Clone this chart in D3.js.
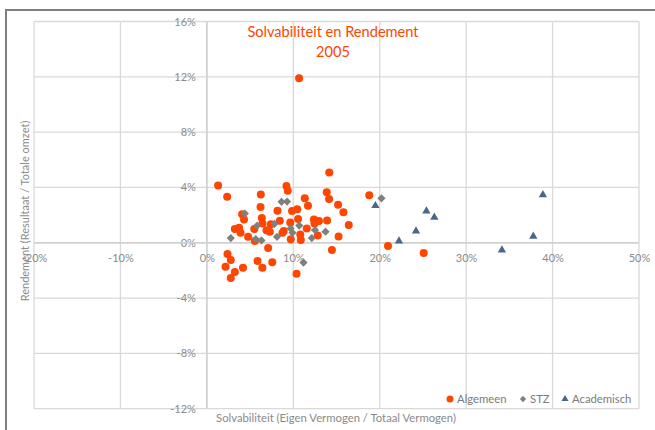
<!DOCTYPE html>
<html>
<head>
<meta charset="utf-8">
<script src="https://cdn.jsdelivr.net/npm/d3@7"></script>
<style>
  body { margin: 0; background: #fff; }
  text { font-family: Lato, "Open Sans", sans-serif; }
</style>
</head>
<body>
<div id="chart"></div>
<script>
// values in percent
const algemeenX = [1.3, 2.35, 6.24, 9.21, 9.36, 14.16, 13.87, 14.14, 11.33, 11.7, 15.18, 15.8, 16.42, 18.79,
  6.21, 4.08, 4.3, 8.17, 9.86, 10.46, 6.36, 6.44, 8.44, 7.4, 7.28, 9.65, 10.55, 11.56, 12.39, 12.97,
  12.45, 13.91, 3.24, 3.73, 3.9, 4.77, 5.55, 5.49, 8.75, 9.71, 10.81, 10.87, 12.83, 15.24, 14.47,
  7.09, 20.96, 2.39, 2.77, 2.16, 3.24, 2.77, 4.18, 5.86, 6.42, 7.57, 10.38, 10.67, 25.09, 6.9, 8.9];
const algemeenY = [4.14, 3.33, 3.49, 4.1, 3.76, 5.08, 3.65, 3.16, 3.21, 2.68, 2.75, 2.2, 1.28, 3.43,
  2.58, 2.06, 1.69, 2.31, 2.29, 2.42, 1.79, 1.4, 1.59, 1.33, 0.8, 1.46, 1.71, 1.04, 1.69, 1.58,
  1.4, 1.61, 0.99, 1.08, 0.72, 0.43, 0.12, 0.99, 0.72, 0.25, 0.59, 0.2, 0.52, 0.45, -0.53,
  -0.38, -0.24, -0.82, -1.25, -1.74, -2.12, -2.55, -1.81, -1.32, -1.81, -1.41, -2.25, 11.89, -0.74, 0.9, 0.85];

const stzX = [2.77, 4.39, 5.82, 5.66, 6.32, 7.83, 8.12, 8.64, 9.28, 9.69, 9.91, 10.69, 12.14, 12.51, 13.73, 11.18, 20.2];
const stzY = [0.34, 2.11, 1.24, 0.27, 0.17, 1.37, 0.43, 2.96, 2.98, 1.04, 0.72, 1.24, 0.34, 0.92, 0.8, -1.43, 3.21];

const academischX = [19.5, 22.23, 24.2, 25.4, 26.32, 34.14, 37.77, 38.88];
const academischY = [2.68, 0.12, 0.85, 2.29, 1.84, -0.53, 0.46, 3.47];

const xTicks = [-20, -10, 0, 10, 20, 30, 40, 50];
const yTicks = [-12, -8, -4, 0, 4, 8, 12, 16];

const title = ["Solvabiliteit en Rendement", "2005"];
const xTitle = "Solvabiliteit (Eigen Vermogen / Totaal Vermogen)";
const yTitle = "Rendement (Resultaat / Totale omzet)";
const series = ["Algemeen", "STZ", "Academisch"];

let width = 655,
  height = 430;

const orange = "#ff4500",
  grey = "#808080",
  blue = "#4a6788",
  labelColor = "#8a8a8a";

let svg = d3
  .select("#chart")
  .append("svg")
  .attr("width", width)
  .attr("height", height);

// outer frame (runs off the right and bottom of the picture)
svg
  .append("rect")
  .attr("x", 6)
  .attr("y", 10)
  .attr("width", 700)
  .attr("height", 500)
  .attr("fill", "none")
  .attr("stroke", "#7f7f7f")
  .attr("stroke-width", 2);

let x = d3.scaleLinear().domain([-20, 50]).range([34, 639]);
let y = d3.scaleLinear().domain([-12, 16]).range([408.7, 21.5]);

// gridlines
svg
  .append("g")
  .selectAll("line")
  .data(xTicks)
  .enter()
  .append("line")
  .attr("x1", d => x(d))
  .attr("x2", d => x(d))
  .attr("y1", y(16))
  .attr("y2", y(-12))
  .attr("stroke", "#d9d9d9")
  .attr("stroke-width", 1.3);

svg
  .append("g")
  .selectAll("line")
  .data(yTicks)
  .enter()
  .append("line")
  .attr("y1", d => y(d))
  .attr("y2", d => y(d))
  .attr("x1", x(-20))
  .attr("x2", x(50))
  .attr("stroke", "#d9d9d9")
  .attr("stroke-width", 1.3);

// axes through zero
let yAxis = svg
  .append("g")
  .attr("transform", `translate(${x(0)},0)`)
  .call(
    d3
      .axisLeft(y)
      .tickValues(yTicks)
      .tickSize(0)
      .tickPadding(11)
      .tickFormat(d => d + "%")
  );

let xAxis = svg
  .append("g")
  .attr("transform", `translate(0,${y(0)})`)
  .call(
    d3
      .axisBottom(x)
      .tickValues(xTicks)
      .tickSize(0)
      .tickPadding(11)
      .tickFormat(d => d + "%")
  );

[xAxis, yAxis].forEach(ax => {
  ax.select(".domain").attr("stroke", "#d0d0d0").attr("stroke-width", 1.5);
  ax.selectAll("text")
    .attr("fill", labelColor)
    .attr("font-size", 11)
    .style("font-family", "Lato, 'Open Sans', sans-serif");
});
xAxis.select(".domain").attr("d", `M${x(-20)},0H${x(50)}`);
yAxis.select(".domain").attr("d", `M0,${y(16)}V${y(-12)}`);

// axis titles
svg
  .append("text")
  .attr("x", 336)
  .attr("y", 422)
  .attr("text-anchor", "middle")
  .attr("font-size", 11.3)
  .attr("fill", labelColor)
  .text(xTitle);

svg
  .append("text")
  .attr("transform", "translate(29,211) rotate(-90)")
  .attr("text-anchor", "middle")
  .attr("font-size", 11)
  .attr("fill", labelColor)
  .text(yTitle);

// title
svg
  .selectAll(".title")
  .data(title)
  .enter()
  .append("text")
  .attr("class", "title")
  .attr("x", 333)
  .attr("y", (d, i) => 37 + i * 20)
  .attr("text-anchor", "middle")
  .attr("font-size", 14.6)
  .attr("fill", orange)
  .text(d => d);

// points
let algData = algemeenX.map((v, i) => [v, algemeenY[i]]);
let stzData = stzX.map((v, i) => [v, stzY[i]]);
let acaData = academischX.map((v, i) => [v, academischY[i]]);

svg
  .append("g")
  .selectAll("circle")
  .data(algData)
  .enter()
  .append("circle")
  .attr("cx", d => x(d[0]))
  .attr("cy", d => y(d[1]))
  .attr("r", 4)
  .attr("fill", orange);

let diamond = d3.symbol().type(d3.symbolSquare).size(34);
let triangle = d3.symbol().type(d3.symbolTriangle).size(30);

svg
  .append("g")
  .selectAll("path")
  .data(stzData)
  .enter()
  .append("path")
  .attr("d", diamond)
  .attr("transform", d => `translate(${x(d[0])},${y(d[1])}) rotate(45)`)
  .attr("fill", grey);

svg
  .append("g")
  .selectAll("path")
  .data(acaData)
  .enter()
  .append("path")
  .attr("d", triangle)
  .attr("transform", d => `translate(${x(d[0])},${y(d[1])})`)
  .attr("fill", blue);

// legend
let legend = svg.append("g").attr("transform", "translate(0,399)");
let legendX = [450, 523, 565];

legend
  .append("circle")
  .attr("cx", legendX[0])
  .attr("cy", 0)
  .attr("r", 3.5)
  .attr("fill", orange);
legend
  .append("path")
  .attr("d", d3.symbol().type(d3.symbolSquare).size(20))
  .attr("transform", `translate(${legendX[1]},0) rotate(45)`)
  .attr("fill", grey);
legend
  .append("path")
  .attr("d", d3.symbol().type(d3.symbolTriangle).size(22))
  .attr("transform", `translate(${legendX[2]},0)`)
  .attr("fill", blue);

legend
  .selectAll("text")
  .data(series)
  .enter()
  .append("text")
  .attr("x", (d, i) => legendX[i] + 7)
  .attr("y", 4)
  .attr("font-size", 11.3)
  .attr("fill", "#7a7a7a")
  .text(d => d);
</script>
</body>
</html>
